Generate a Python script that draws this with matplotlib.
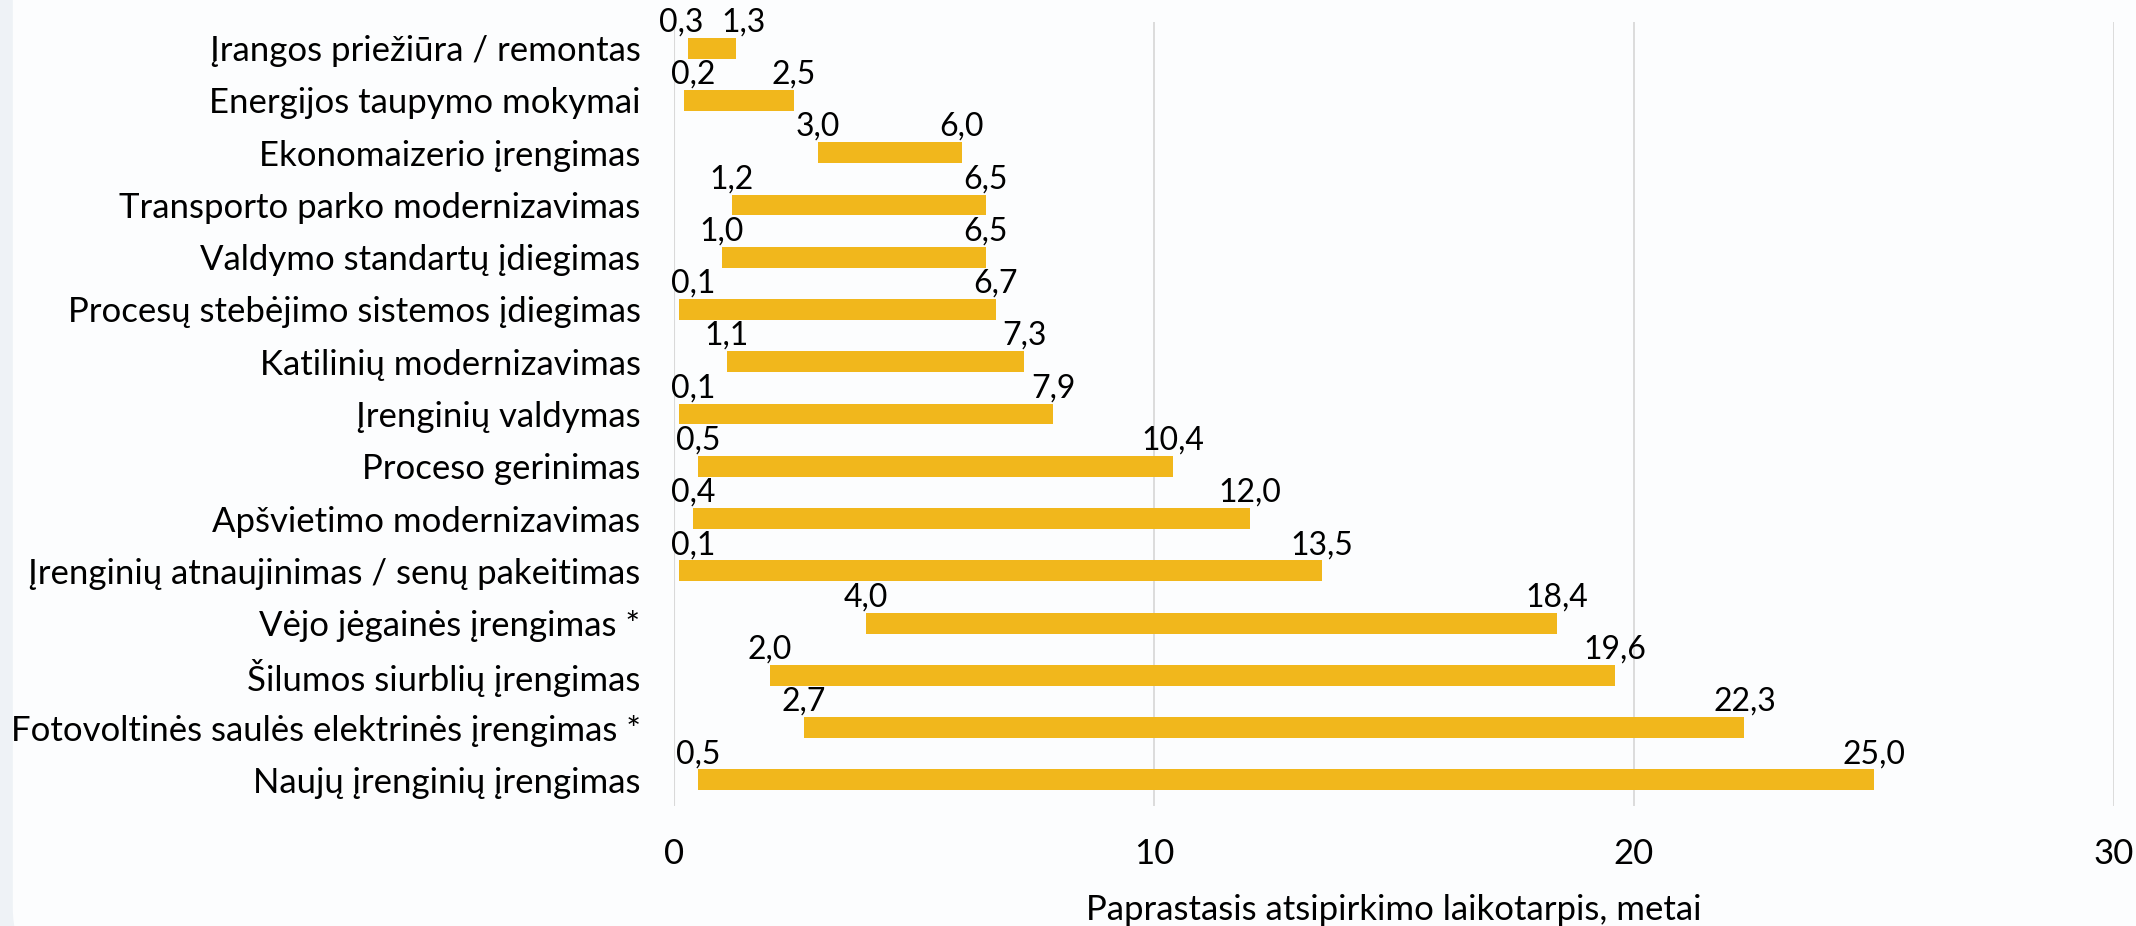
import matplotlib.pyplot as plt
from matplotlib.patches import FancyBboxPatch

plt.rcParams['font.family'] = ['Lato', 'DejaVu Sans']

# categories, top to bottom
categories = [
    'Įrangos priežiūra / remontas',
    'Energijos taupymo mokymai',
    'Ekonomaizerio įrengimas',
    'Transporto parko modernizavimas',
    'Valdymo standartų įdiegimas',
    'Procesų stebėjimo sistemos įdiegimas',
    'Katilinių modernizavimas',
    'Įrenginių valdymas',
    'Proceso gerinimas',
    'Apšvietimo modernizavimas',
    'Įrenginių atnaujinimas / senų pakeitimas',
    'Vėjo jėgainės įrengimas *',
    'Šilumos siurblių įrengimas',
    'Fotovoltinės saulės elektrinės įrengimas *',
    'Naujų įrenginių įrengimas',
]
min_years = [0.3, 0.2, 3.0, 1.2, 1.0, 0.1, 1.1, 0.1, 0.5, 0.4, 0.1, 4.0, 2.0, 2.7, 0.5]
max_years = [1.3, 2.5, 6.0, 6.5, 6.5, 6.7, 7.3, 7.9, 10.4, 12.0, 13.5, 18.4, 19.6, 22.3, 25.0]

bar_color = '#F1B71C'
grid_color = '#D9D9D9'
fs = 25
fs_val = 23

fig = plt.figure(figsize=(21.36, 9.26), dpi=100)
fig.patch.set_facecolor('#EEF2F6')
bg = FancyBboxPatch((0.006, -0.05), 1.2, 1.2, boxstyle='round,pad=0,rounding_size=0.03',
                    transform=fig.transFigure, facecolor='#FCFDFE', edgecolor='none',
                    mutation_aspect=2136 / 926, zorder=-10)
fig.patches.append(bg)

ax = fig.add_axes([0.3155, 0.1296, 0.9897 - 0.3155, 0.9762 - 0.1296])
ax.set_facecolor('none')
ax.set_zorder(5)

ypos = list(range(len(categories)))
widths = [b - a for a, b in zip(min_years, max_years)]
ax.barh(ypos, widths, left=min_years, height=0.40, color=bar_color, zorder=3)

# value labels above both ends, kept inside the plot and apart from each other
min_gap = 1.3
for y, a, b in zip(ypos, min_years, max_years):
    pa, pb = max(a, 0.4), b
    if pb - pa < min_gap:
        mid = (a + b) / 2
        pa, pb = mid - min_gap / 2, mid + min_gap / 2
    ax.text(pa, y - 0.32, f'{a:.1f}'.replace('.', ','), ha='center', va='baseline',
            fontsize=fs_val, color='black', zorder=4)
    ax.text(pb, y - 0.32, f'{b:.1f}'.replace('.', ','), ha='center', va='baseline',
            fontsize=fs_val, color='black', zorder=4)

ax.set_xlim(0, 30)
ax.set_ylim(len(categories) - 0.5, -0.5)
ax.set_xticks([0, 10, 20, 30])
ax.set_yticks(ypos)
ax.set_yticklabels(categories, fontsize=fs)
ax.tick_params(axis='x', labelsize=fs, length=0, pad=23)
ax.tick_params(axis='y', length=0, pad=24)
ax.grid(axis='x', color=grid_color, linewidth=1.3, zorder=0)
for s in ax.spines.values():
    s.set_visible(False)
ax.axvline(0, color=grid_color, linewidth=1.5, zorder=1)

ax.set_xlabel('Paprastasis atsipirkimo laikotarpis, metai', fontsize=fs, labelpad=17)

fig.savefig('out.png', dpi=100, facecolor=fig.get_facecolor())
